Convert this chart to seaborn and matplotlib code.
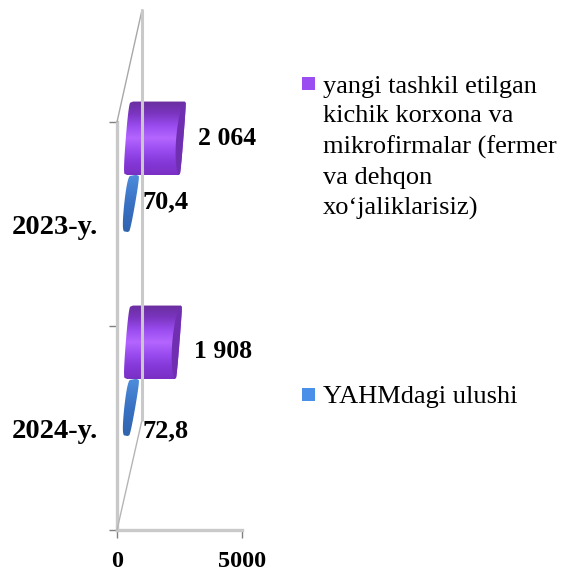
import numpy as np
import pandas as pd
import matplotlib
matplotlib.use("Agg")
import matplotlib.pyplot as plt
from matplotlib.colors import LinearSegmentedColormap
from matplotlib.lines import Line2D
from matplotlib.patches import Polygon, Rectangle
from matplotlib.transforms import IdentityTransform
import seaborn as sns

sns.set_style("white")
plt.rcParams['font.family'] = ['Liberation Serif', 'DejaVu Serif']

W, H = 562, 573

years = ["2023-y.", "2024-y."]
series = ["yangi tashkil etilgan\nkichik korxona va\nmikrofirmalar (fermer\nva dehqon\nxo‘jaliklarisiz)",
          "YAHMdagi ulushi"]
firm_values = [2064, 1908]
share_values = [70.4, 72.8]
firm_labels = ["2 064", "1 908"]
share_labels = ["70,4", "72,8"]
x_ticks = [0, 5000]

purple_cmap = LinearSegmentedColormap.from_list(
    "purple", ["#6a2f9e", "#7b35c0", "#9a4cf0", "#b566ff", "#9a4cf0", "#8438d8", "#7a30c4"])
blue_cmap = LinearSegmentedColormap.from_list("blue", ["#4f8ddc", "#3a72c4", "#2f64ae"])


def px(x, y):
    # reference pixels (y from top) to figure fraction
    return x / W, 1 - y / H


def cylinder(bar, cmap, cap_color, depth, slant, cap, shrink=1.0, taper=0.0):
    x0, x1 = bar.get_x(), bar.get_x() + bar.get_width()
    y0, y1 = bar.get_y(), bar.get_y() + bar.get_height()
    (a, top), (b, bot) = ax.transData.transform([(x0, y0), (x1, y1)])
    a, b = a + depth[0], b + depth[0]
    top, bot = top + depth[1], bot + depth[1]
    bot = top - (top - bot) * shrink
    mid = (top + bot) / 2
    half = (top - bot) / 2

    v = np.linspace(-1, 1, 60)
    bulge = np.sqrt(1 - v ** 2)
    narrow = 1 - taper * (1 - v) / 2
    ys = mid + half * v
    skew = v * half * slant
    left = a - cap * 0.7 * bulge ** 0.3 + skew + (1 - narrow) * (b - a + cap) / 2
    right = b + cap * 0.3 * bulge ** 0.3 + skew - (1 - narrow) * (b - a + cap) / 2
    outline = np.vstack([np.c_[left, ys], np.c_[right[::-1], ys[::-1]]])
    shape = Polygon(outline, closed=True, transform=IdentityTransform(),
                    facecolor="none", edgecolor="none", clip_on=False)
    ax.add_patch(shape)

    grad = np.linspace(0, 1, 128).reshape(-1, 1)
    im = ax.imshow(grad, cmap=cmap, aspect="auto", origin="upper",
                   extent=(left.min() - 1, right.max() + 1, bot, top), zorder=3)
    im.set_transform(IdentityTransform())
    im.set_clip_path(shape)
    im.set_clip_box(fig.bbox)

    if cap_color is not None:
        inner = right - cap * 1.2 * bulge
        crescent = np.vstack([np.c_[inner, ys], np.c_[right[::-1], ys[::-1]]])
        ax.add_patch(Polygon(crescent, closed=True, transform=IdentityTransform(),
                             facecolor=cap_color, edgecolor="none", zorder=4, clip_on=False))
    return right.max(), mid


df = pd.DataFrame({
    "year": years * 2,
    "series": [series[0]] * 2 + [series[1]] * 2,
    "value": firm_values + share_values,
})

fig = plt.figure(figsize=(W / 100, H / 100), dpi=100)
ax = fig.add_axes([117 / W, 1 - 530 / H, 125 / W, 408 / H])
sns.barplot(data=df, y="year", x="value", hue="series", order=years, hue_order=series,
            palette=["#9a4df0", "#4a8fe8"], width=0.72, legend=False, orient="h", ax=ax)
ax.set_xlim(0, 5000)
ax.set_ylim(1.5, -0.5)
ax.set_xlabel("")
ax.set_ylabel("")
ax.set_xticks(x_ticks)
ax.set_yticks([-0.5, 0.5, 1.5], minor=False)
ax.set_yticklabels([])
ax.set_yticks([0, 1], labels=years, minor=True)
ax.tick_params(axis="y", which="major", left=True, length=6, width=1, color="#808080")
ax.tick_params(axis="y", which="minor", left=False, length=0, pad=14)
ax.tick_params(axis="x", which="major", bottom=True, length=6, width=1, color="#808080", pad=9)
for lab in ax.get_xticklabels():
    lab.set_fontweight("bold")
    lab.set_fontsize(17.5)
    lab.set_color("black")
for lab in ax.get_yticklabels(minor=True):
    lab.set_fontweight("bold")
    lab.set_fontsize(20.5)
    lab.set_color("black")
ax.spines["top"].set_visible(False)
ax.spines["right"].set_visible(False)
for side in ("left", "bottom"):
    ax.spines[side].set_color("#c9c9c9")
    ax.spines[side].set_linewidth(2.4)

# back wall of the 3d box
(fx, fy), (ex, ey) = ax.transAxes.transform([(0, 0), (0, 1)])
wall = [((fx, fy), (fx + 25, fy + 110), 1.0, "#b5b5b5"),
        ((ex, ey), (ex + 25, ey + 112), 1.0, "#a8a8a8"),
        ((fx + 25, fy + 110), (ex + 25, ey + 112), 2.2, "#c9c9c9")]
for p, q, lw, col in wall:
    fig.add_artist(Line2D([p[0], q[0]], [p[1], q[1]], lw=lw, color=col,
                          transform=IdentityTransform(), zorder=0.5))

firm_bars, share_bars = ax.containers[0], ax.containers[1]
for bar in list(firm_bars) + list(share_bars):
    bar.set_visible(False)

firm_shift = [0, -9]
share_shift = [22, -3]
for i in range(len(years)):
    cylinder(share_bars[i], blue_cmap, None, (14, 49), 0.14, 11, shrink=0.78, taper=0.3)
    end, mid = cylinder(firm_bars[i], purple_cmap, "#6f2fb0", (13, 49), 0.08, 6)
    ax.annotate(firm_labels[i], (end, mid), xycoords=IdentityTransform(), xytext=(12, firm_shift[i]),
                textcoords="offset pixels", ha="left", va="center",
                fontweight="bold", fontsize=18.5, color="black", annotation_clip=False)
    ax.annotate(share_labels[i], (0, i), xycoords=("axes fraction", "data"), xytext=(26, share_shift[i]),
                textcoords="offset pixels", ha="left", va="center",
                fontweight="bold", fontsize=19, color="black", annotation_clip=False)

ax.set_xlim(0, 5000)
ax.set_ylim(1.5, -0.5)
ax.set_aspect("auto")

# legend written by hand so the marker sits on the first text line
legend_rows = [(83.5, "#9a4df0", series[0]), (394, "#4a8fe8", series[1])]
for y, col, text in legend_rows:
    x0, y0 = px(302, y + 6.5)
    fig.add_artist(Rectangle((x0, y0), 13 / W, 13 / H, transform=fig.transFigure,
                             facecolor=col, edgecolor="none"))
    tx, ty = px(323, y - 8)
    fig.text(tx, ty, text, ha="left", va="top", fontsize=19, linespacing=1.46, color="black")

fig.savefig("out.png", dpi=100)
